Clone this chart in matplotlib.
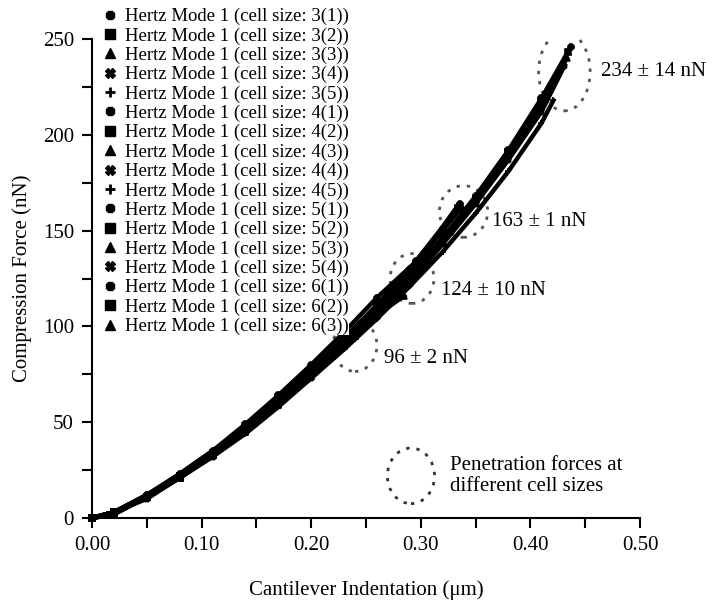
import matplotlib.pyplot as plt
from matplotlib.lines import Line2D
from matplotlib.patches import Ellipse

plt.rcParams['font.family'] = ['Liberation Serif', 'DejaVu Serif']

# indentation grids (um) per cell size group
x3 = [0, 0.02, 0.05, 0.08, 0.11, 0.14, 0.17, 0.20, 0.23, 0.26, 0.29, 0.32, 0.35, 0.38, 0.41]
x4 = [0, 0.02, 0.05, 0.08, 0.11, 0.14, 0.17, 0.20, 0.23, 0.26, 0.29, 0.32]
x5 = [0, 0.02, 0.05, 0.08, 0.11, 0.14, 0.17, 0.20, 0.23, 0.26]
x6 = [0, 0.02, 0.05, 0.08, 0.11, 0.14, 0.17, 0.20, 0.23]

# (force values in nN on the grid, last x, last force)
s3_1 = ([0, 3, 11, 21, 33, 46, 60, 75, 90, 107, 126, 146, 168, 192, 219], 0.437, 246)
s3_2 = ([0, 3, 11, 22, 34, 46, 60, 75, 91, 108, 126, 146, 167, 191, 217], 0.434, 243)
s3_3 = ([0, 2, 11, 21, 33, 45, 59, 74, 90, 106, 124, 144, 166, 189, 215], 0.433, 240)
s3_4 = ([0, 3, 10, 21, 32, 45, 59, 73, 89, 105, 123, 143, 164, 187, 212], 0.431, 236)
s3_5 = ([0, 3, 11, 21, 32, 44, 58, 73, 88, 104, 121, 139, 159, 181, 206], 0.421, 218)

s4_1 = ([0, 3, 12, 22, 34, 47, 61, 77, 93, 111, 130, 151], 0.336, 164)
s4_2 = ([0, 3, 11, 22, 34, 47, 61, 76, 93, 110, 129, 150], 0.334, 162)
s4_3 = ([0, 3, 12, 23, 35, 48, 62, 77, 94, 111, 130, 151], 0.335, 163)
s4_4 = ([0, 2, 11, 22, 33, 46, 60, 76, 92, 110, 129, 150], 0.337, 162)
s4_5 = ([0, 3, 12, 22, 34, 47, 61, 77, 93, 111, 130, 152], 0.335, 164)

s5_1 = ([0, 3, 12, 23, 35, 49, 64, 80, 97, 115], 0.296, 134)
s5_2 = ([0, 3, 11, 22, 34, 47, 62, 77, 93, 110], 0.289, 123)
s5_3 = ([0, 2, 11, 21, 33, 45, 59, 74, 90, 106], 0.285, 116)
s5_4 = ([0, 3, 11, 22, 34, 47, 61, 77, 93, 110], 0.290, 122)

s6_1 = ([0, 3, 11, 22, 34, 47, 61, 77, 93], 0.242, 98)
s6_2 = ([0, 3, 11, 21, 33, 46, 60, 75, 91], 0.240, 95)
s6_3 = ([0, 2, 11, 21, 33, 45, 59, 74, 90], 0.238, 94)

labels = ['3(1)', '3(2)', '3(3)', '3(4)', '3(5)',
          '4(1)', '4(2)', '4(3)', '4(4)', '4(5)',
          '5(1)', '5(2)', '5(3)', '5(4)',
          '6(1)', '6(2)', '6(3)']
series = [(x3, s3_1), (x3, s3_2), (x3, s3_3), (x3, s3_4), (x3, s3_5),
          (x4, s4_1), (x4, s4_2), (x4, s4_3), (x4, s4_4), (x4, s4_5),
          (x5, s5_1), (x5, s5_2), (x5, s5_3), (x5, s5_4),
          (x6, s6_1), (x6, s6_2), (x6, s6_3)]
markers = ['8', 's', '^', 'X', '+'] * 2 + ['8', 's', '^', 'X'] + ['8', 's', '^']

# penetration force annotations: (x, y, w, h, text, text x, text y)
circles = [(0.431, 233, 0.047, 41, '234 ± 14 nN', 0.464, 233),
           (0.339, 160, 0.044, 27, '163 ± 1 nN', 0.365, 155),
           (0.292, 125, 0.040, 26, '124 ± 10 nN', 0.318, 119),
           (0.240, 90, 0.040, 27, '96 ± 2 nN', 0.266, 83)]

fig = plt.figure(figsize=(7.12, 6.05), dpi=100)
ax = fig.add_axes([0.1292, 0.1438, 0.7697, 0.7917])

handles = []
for (xs, (ys, xe, ye)), m, lab in zip(series, markers, labels):
    ax.plot(xs + [xe], ys + [ye], color='black', lw=3.2, marker=m, ms=4,
            mew=1.2, clip_on=False, zorder=3)
    handles.append(Line2D([], [], color='black', linestyle='none', marker=m,
                          ms=7, mew=2 if m == '+' else 1,
                          label='Hertz Mode 1 (cell size: {})'.format(lab)))

for cx, cy, w, h, txt, tx, ty in circles:
    ax.add_patch(Ellipse((cx, cy), w, h, fill=False, edgecolor='#555555',
                         lw=2, linestyle=(0, (1.2, 2.5)), zorder=2))
    ax.text(tx, ty, txt, fontsize=15, va='center', ha='left')

ax.add_patch(Ellipse((0.291, 22), 0.043, 29, fill=False, edgecolor='#333333',
                     lw=2, linestyle=(0, (1.2, 2.5))))
ax.text(0.327, 22, 'Penetration forces at\ndifferent cell sizes', fontsize=15,
        va='center', ha='left', linespacing=1.15)

leg = ax.legend(handles=handles, loc='upper left', bbox_to_anchor=(0.02, 1.065),
                frameon=True, facecolor='white', edgecolor='none', framealpha=1,
                fancybox=False, fontsize=13.5, labelspacing=0.11, handlelength=0.8,
                handletextpad=0.4, borderpad=0, borderaxespad=0)
leg.set_zorder(5)

ax.set_xlim(0, 0.5)
ax.set_ylim(0, 250)
ax.set_xticks([0, 0.1, 0.2, 0.3, 0.4, 0.5])
ax.set_xticklabels(['0.00', '0.10', '0.20', '0.30', '0.40', '0.50'])
ax.set_xticks([0.05, 0.15, 0.25, 0.35, 0.45], minor=True)
ax.set_yticks([0, 50, 100, 150, 200, 250])
ax.set_yticks([25, 75, 125, 175, 225], minor=True)
ax.tick_params(which='both', direction='out', length=7, width=1.5,
               labelsize=15, pad=6)
for side in ['top', 'right']:
    ax.spines[side].set_visible(False)
for side in ['left', 'bottom']:
    ax.spines[side].set_linewidth(1.5)

ax.set_xlabel('Cantilever Indentation (μm)', fontsize=15, labelpad=18)
ax.set_ylabel('Compression Force (nN)', fontsize=15, labelpad=8)

plt.savefig('out.png', dpi=100)
